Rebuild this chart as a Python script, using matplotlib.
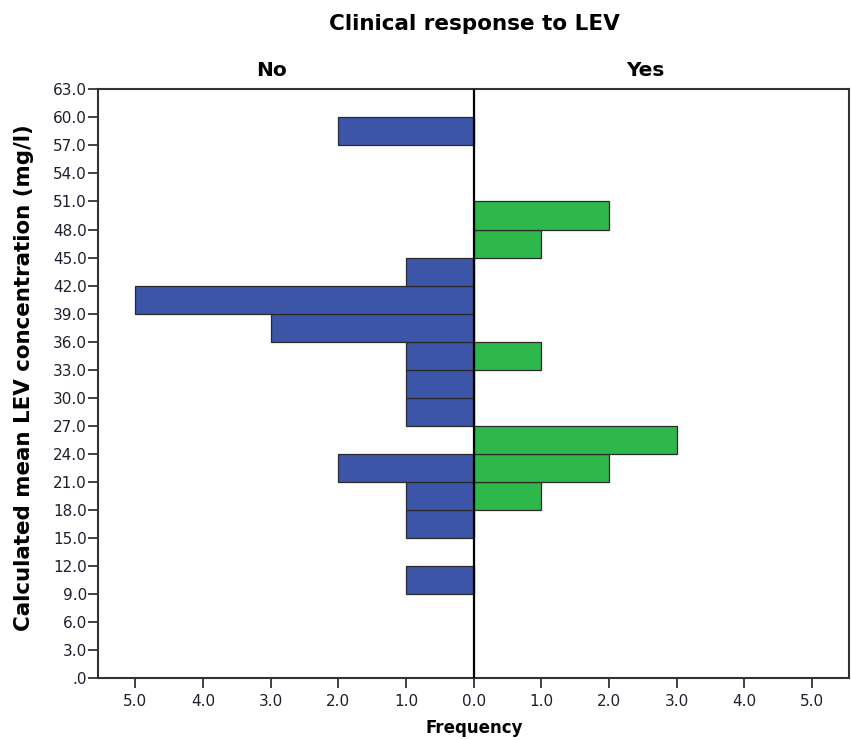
import matplotlib
matplotlib.use("Agg")
import matplotlib.pyplot as plt
import numpy as np

# Data
bin_lower = [0, 3, 6, 9, 12, 15, 18, 21, 24, 27, 30, 33, 36, 39, 42, 45, 48, 51, 54, 57, 60]
no_counts = [0, 0, 0, 1, 0, 1, 1, 2, 0, 1, 1, 1, 3, 5, 1, 0, 0, 0, 0, 2, 0]
yes_counts = [0, 0, 0, 0, 0, 0, 1, 2, 3, 0, 0, 1, 0, 0, 0, 1, 2, 0, 0, 0, 0]
y_ticks = [3 * i for i in range(22)]
x_ticks = [-5, -4, -3, -2, -1, 0, 1, 2, 3, 4, 5]
bin_width = 3

plt.rcParams['font.family'] = ['DejaVu Sans']

W, H = 851, 740
fig = plt.figure(figsize=(W / 100, H / 100), dpi=100)
ax = fig.add_axes([98 / W, 1 - 678.3 / H, (849.3 - 98) / W, (678.3 - 89.3) / H])

blue = '#3D55A6'
green = '#2EB84B'
edge = '#2a2a2a'

for lo, n in zip(bin_lower, no_counts):
    if n > 0:
        ax.barh(lo, -n, height=bin_width, align='edge', color=blue, edgecolor=edge, linewidth=0.9)
for lo, n in zip(bin_lower, yes_counts):
    if n > 0:
        ax.barh(lo, n, height=bin_width, align='edge', color=green, edgecolor=edge, linewidth=0.9)

ax.axvline(0, color='black', linewidth=1.6, zorder=5)

ax.set_xlim(-5.55, 5.55)
ax.set_ylim(0, 63)

ax.set_yticks(y_ticks)
ax.set_yticklabels(['.0' if v == 0 else f'{v:.1f}' for v in y_ticks])
ax.set_xticks(x_ticks)
ax.set_xticklabels([f'{abs(v):.1f}' for v in x_ticks])

tick_color = '#1e1e30'
ax.tick_params(axis='both', direction='out', length=7, width=1.3, colors='#333333',
               labelcolor=tick_color, labelsize=11)
ax.tick_params(axis='y', pad=1)
ax.tick_params(axis='x', pad=4)
for s in ax.spines.values():
    s.set_linewidth(1.5)
    s.set_color('#333333')

fig.text(474 / W, 1 - 24 / H, 'Clinical response to LEV', ha='center', va='center',
         fontsize=15.5, fontweight='bold')
fig.text(272 / W, 1 - 70 / H, 'No', ha='center', va='center', fontsize=14.5, fontweight='bold')
fig.text(645 / W, 1 - 70 / H, 'Yes', ha='center', va='center', fontsize=14.5, fontweight='bold')
fig.text(474.5 / W, 1 - 728 / H, 'Frequency', ha='center', va='center', fontsize=12, fontweight='bold')
fig.text(24 / W, 1 - 378 / H, 'Calculated mean LEV concentration (mg/l)', ha='center', va='center',
         rotation=90, fontsize=15.4, fontweight='bold')

fig.savefig('out.png', dpi=100)
